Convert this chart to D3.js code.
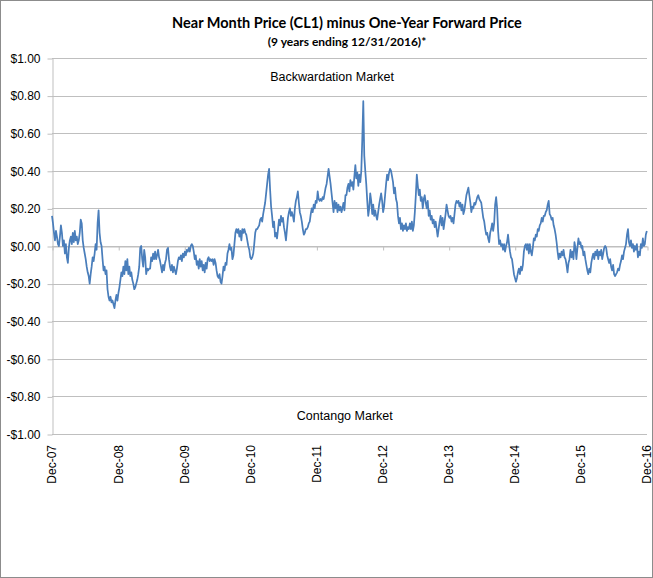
<!DOCTYPE html>
<html>
<head>
<meta charset="utf-8">
<script src="https://cdn.jsdelivr.net/npm/d3@7"></script>
<style>
  body { margin: 0; background: #fff; }
</style>
</head>
<body>
<script>
// CL1 near month minus one-year forward
// (one reading roughly every 5-6 days, Dec 2007 to Dec 2016)
const dec07ToJun09 = [
  0.16, 0.12, 0.07, 0.03, 0.08, 0.05, 0.01, 0.00, 0.05, 0.11,
  0.07, 0.00, 0.03, -0.04, 0.01, -0.06, -0.09, -0.01, 0.03, 0.05,
  0.01, 0.07, 0.02, 0.08, 0.03, 0.05, 0.01, 0.03, 0.07, 0.14,
  0.12, 0.03, -0.01, -0.04, -0.07, -0.11, -0.14, -0.16, -0.20, -0.15,
  -0.11, -0.06, -0.08, -0.04, 0.01, -0.02, 0.12, 0.19, 0.07, 0.02,
  0.00, -0.07, -0.13, -0.11, -0.15, -0.13, -0.23, -0.27, -0.29, -0.27,
  -0.30, -0.29, -0.31, -0.33, -0.29, -0.26, -0.29, -0.25, -0.22, -0.18,
  -0.14, -0.16, -0.11, -0.15, -0.08, -0.13, -0.07, -0.15, -0.11, -0.16,
  -0.14, -0.18, -0.20, -0.23, -0.22, -0.20, -0.18, -0.15, -0.11, -0.01,
  0.00, -0.07, -0.11, -0.02, -0.06, -0.15, -0.12, -0.13, -0.12
];
const jun09ToDec10 = [
  -0.12, -0.06, -0.08, -0.04, -0.07, -0.03, -0.07, -0.05, -0.02, -0.06,
  -0.08, -0.11, -0.14, -0.10, -0.13, -0.09, -0.07, -0.02, -0.01, -0.07,
  -0.11, -0.13, -0.10, -0.14, -0.11, -0.13, -0.15, -0.12, -0.08, -0.06,
  -0.07, -0.05, -0.08, -0.04, -0.06, -0.03, -0.05, -0.02, -0.03, -0.01,
  -0.03, 0.00, 0.01, 0.00, -0.03, -0.07, -0.05, -0.10, -0.08, -0.12,
  -0.07, -0.11, -0.08, -0.13, -0.10, -0.14, -0.09, -0.12, -0.07, -0.06,
  -0.08, -0.07, -0.08, -0.07, -0.10, -0.07, -0.09, -0.13, -0.16, -0.17,
  -0.15, -0.19, -0.20, -0.16, -0.11, -0.13, -0.09, -0.10, -0.04, -0.02,
  0.01, -0.02, -0.01, -0.07, -0.05, 0.01, 0.07, 0.09, 0.07, 0.09,
  0.05, 0.08, 0.03, 0.09, 0.07
];
const dec10ToJun12 = [
  0.09, 0.07, 0.06, 0.03, 0.00, -0.02, -0.06, -0.07, -0.06, -0.04,
  0.01, 0.07, 0.09, 0.09, 0.10, 0.11, 0.14, 0.15, 0.13, 0.17,
  0.20, 0.23, 0.28, 0.33, 0.38, 0.41, 0.30, 0.21, 0.16, 0.10,
  0.13, 0.05, 0.07, 0.04, 0.09, 0.14, 0.11, 0.16, 0.13, 0.15,
  0.10, 0.07, 0.03, 0.09, 0.15, 0.18, 0.20, 0.16, 0.18, 0.16,
  0.13, 0.20, 0.24, 0.26, 0.29, 0.23, 0.18, 0.16, 0.13, 0.09,
  0.06, 0.07, 0.09, 0.09, 0.10, 0.12, 0.13, 0.17, 0.20, 0.18,
  0.22, 0.20, 0.24, 0.23, 0.29, 0.25, 0.24, 0.25, 0.24, 0.26,
  0.25, 0.28, 0.31, 0.33, 0.37, 0.41, 0.37, 0.33, 0.28, 0.23,
  0.18, 0.24, 0.20, 0.23, 0.18, 0.22, 0.19, 0.21, 0.18, 0.20,
  0.23, 0.19, 0.27
];
const jun12ToDec13 = [
  0.27, 0.31, 0.33, 0.29, 0.35, 0.32, 0.34, 0.30, 0.37, 0.43,
  0.36, 0.39, 0.32, 0.38, 0.34, 0.40, 0.57, 0.77, 0.48, 0.40,
  0.33, 0.24, 0.16, 0.20, 0.28, 0.24, 0.17, 0.22, 0.16, 0.19,
  0.16, 0.14, 0.18, 0.22, 0.25, 0.28, 0.24, 0.18, 0.21, 0.27,
  0.33, 0.38, 0.35, 0.39, 0.41, 0.40, 0.37, 0.34, 0.28, 0.31,
  0.25, 0.23, 0.16, 0.12, 0.15, 0.09, 0.12, 0.08, 0.11, 0.09,
  0.12, 0.08, 0.10, 0.09, 0.12, 0.09, 0.13, 0.08, 0.11, 0.18,
  0.27, 0.38, 0.32, 0.27, 0.30, 0.24, 0.26, 0.20, 0.25, 0.27,
  0.23, 0.20, 0.24, 0.16, 0.19, 0.14, 0.16, 0.12, 0.14, 0.10,
  0.13, 0.09, 0.05, 0.09, 0.13, 0.16, 0.11, 0.15, 0.09, 0.13,
  0.17, 0.22, 0.19, 0.16
];
const dec13ToJun15 = [
  0.15, 0.16, 0.13, 0.15, 0.12, 0.17, 0.22, 0.24, 0.23, 0.24,
  0.21, 0.23, 0.19, 0.22, 0.17, 0.19, 0.23, 0.27, 0.29, 0.31,
  0.27, 0.23, 0.18, 0.21, 0.20, 0.23, 0.22, 0.24, 0.26, 0.27,
  0.25, 0.24, 0.23, 0.19, 0.15, 0.13, 0.09, 0.06, 0.07, 0.04,
  0.02, 0.07, 0.09, 0.12, 0.08, 0.12, 0.22, 0.26, 0.20, 0.08,
  0.01, 0.03, 0.00, 0.01, -0.02, 0.01, -0.03, 0.00, 0.02, 0.06,
  0.01, -0.03, -0.06, -0.07, -0.11, -0.15, -0.17, -0.19, -0.17, -0.14,
  -0.12, -0.15, -0.11, -0.13, -0.10, -0.03, 0.00, 0.01, -0.02, 0.01,
  -0.04, 0.01, -0.03, -0.05, -0.01, 0.04, 0.03, 0.06, 0.05, 0.09,
  0.08, 0.11, 0.12, 0.15, 0.13, 0.16, 0.16, 0.18, 0.19, 0.22,
  0.24, 0.17
];
const jun15ToDec16 = [
  0.16, 0.14, 0.15, 0.11, 0.09, 0.06, 0.02, -0.03, -0.07, -0.04,
  -0.06, -0.03, -0.05, -0.02, -0.06, -0.07, -0.10, -0.14, -0.09, -0.07,
  -0.02, -0.06, -0.03, -0.07, 0.02, -0.01, -0.07, -0.01, 0.04, 0.01,
  0.02, -0.01, 0.00, -0.05, -0.03, -0.07, -0.10, -0.13, -0.15, -0.12,
  -0.14, -0.09, -0.06, -0.04, -0.07, -0.03, -0.05, -0.02, -0.07, -0.03,
  -0.05, -0.02, -0.07, -0.04, -0.01, 0.00, -0.01, -0.05, -0.07, -0.09,
  -0.07, -0.11, -0.13, -0.10, -0.15, -0.16, -0.15, -0.14, -0.12, -0.13,
  -0.10, -0.08, -0.05, -0.07, -0.03, -0.01, 0.01, 0.06, 0.09, 0.02,
  0.00, 0.03, -0.01, 0.01, -0.03, 0.00, -0.02, 0.01, -0.06, -0.03,
  -0.05, 0.01, -0.01, 0.04, 0.00, 0.01, 0.06, 0.08
];

const firstDay = '2007-12-31';
const lastDay = '2016-12-30';

const yTicks = [-1, -0.8, -0.6, -0.4, -0.2, 0, 0.2, 0.4, 0.6, 0.8, 1];
const yTickLabels = ['-$1.00', '-$0.80', '-$0.60', '-$0.40', '-$0.20', '$0.00',
  '$0.20', '$0.40', '$0.60', '$0.80', '$1.00'];
const xTickDays = ['2007-12-31', '2008-12-31', '2009-12-31', '2010-12-31', '2011-12-31',
  '2012-12-31', '2013-12-31', '2014-12-31', '2015-12-31', '2016-12-31'];
const xTickLabels = ['Dec-07', 'Dec-08', 'Dec-09', 'Dec-10', 'Dec-11',
  'Dec-12', 'Dec-13', 'Dec-14', 'Dec-15', 'Dec-16'];

const width = 653;
const height = 578;
const margin = { top: 58, right: 6, bottom: 144, left: 52 };

const gridColor = '#bfbfbf';
const lineColor = '#4a7ebb';
const labelFont = '"Liberation Sans", Arial, sans-serif';
const titleFont = 'Lato, "Open Sans", sans-serif';

const parseDay = d3.timeParse('%Y-%m-%d');

const values = [].concat(dec07ToJun09, jun09ToDec10, dec10ToJun12,
  jun12ToDec13, dec13ToJun15, jun15ToDec16);
const t0 = parseDay(firstDay);
const t1 = parseDay(lastDay);
const step = (t1 - t0) / (values.length - 1);
const data = values.map((v, i) => ({ date: new Date(+t0 + i * step), value: v }));

const xTickDates = xTickDays.map(parseDay);

const x = d3.scaleTime()
    .domain([xTickDates[0], xTickDates[xTickDates.length - 1]])
    .range([margin.left, width - margin.right]);

const y = d3.scaleLinear()
    .domain([-1, 1])
    .range([height - margin.bottom, margin.top]);

const svg = d3.select('body').append('svg')
    .attr('width', width)
    .attr('height', height);

// outer frame
svg.append('rect')
    .attr('x', 0.5)
    .attr('y', 0.5)
    .attr('width', width - 1)
    .attr('height', height - 1)
    .attr('fill', '#fff')
    .attr('stroke', '#8c8c8c');

// horizontal gridlines
svg.append('g')
    .selectAll('line')
    .data(yTicks)
    .join('line')
    .attr('x1', margin.left)
    .attr('x2', width - margin.right)
    .attr('y1', d => Math.round(y(d)) + 0.5)
    .attr('y2', d => Math.round(y(d)) + 0.5)
    .attr('stroke', gridColor);

// y axis
const yAxis = svg.append('g')
    .attr('transform', `translate(${margin.left + 0.5},0.5)`)
    .call(d3.axisLeft(y)
        .tickValues(yTicks)
        .tickSize(5)
        .tickSizeOuter(0)
        .tickPadding(7)
        .tickFormat((d, i) => yTickLabels[i]));
yAxis.selectAll('path, line').attr('stroke', gridColor);
yAxis.selectAll('text')
    .attr('font-family', labelFont)
    .attr('font-size', 12)
    .attr('fill', '#000');

// horizontal axis crosses at zero, with small ticks below
const xAxis = svg.append('g')
    .attr('transform', `translate(0.5,${Math.round(y(0)) + 0.5})`)
    .call(d3.axisBottom(x)
        .tickValues(xTickDates)
        .tickSize(4)
        .tickSizeOuter(0)
        .tickFormat(''));
xAxis.selectAll('path, line').attr('stroke', gridColor);

// date labels sit at the bottom of the plot, turned upright
const xLabels = svg.append('g')
    .attr('transform', `translate(0,${y(-1)})`)
    .call(d3.axisBottom(x)
        .tickValues(xTickDates)
        .tickSize(0)
        .tickFormat((d, i) => xTickLabels[i]));
xLabels.select('.domain').remove();
xLabels.selectAll('text')
    .attr('transform', 'rotate(-90)')
    .attr('text-anchor', 'end')
    .attr('x', -11)
    .attr('y', 0)
    .attr('dy', '0.32em')
    .attr('font-family', labelFont)
    .attr('font-size', 12)
    .attr('fill', '#000');

// the spread
const line = d3.line()
    .x(d => x(d.date))
    .y(d => y(d.value));

svg.append('path')
    .datum(data)
    .attr('fill', 'none')
    .attr('stroke', lineColor)
    .attr('stroke-width', 1.75)
    .attr('stroke-linejoin', 'round')
    .attr('d', line);

// market labels
svg.append('text')
    .attr('x', x(parseDay('2012-03-27')))
    .attr('y', y(0.9))
    .attr('dy', '0.35em')
    .attr('text-anchor', 'middle')
    .attr('font-family', labelFont)
    .attr('font-size', 12.5)
    .text('Backwardation Market');

svg.append('text')
    .attr('x', x(parseDay('2012-06-05')))
    .attr('y', y(-0.9))
    .attr('dy', '0.35em')
    .attr('text-anchor', 'middle')
    .attr('font-family', labelFont)
    .attr('font-size', 12.5)
    .text('Contango Market');

// titles
svg.append('text')
    .attr('x', 347)
    .attr('y', 28)
    .attr('text-anchor', 'middle')
    .attr('font-family', titleFont)
    .attr('font-weight', 'bold')
    .attr('font-size', 14.5)
    .text('Near Month Price (CL1) minus One-Year Forward Price');

svg.append('text')
    .attr('x', 347)
    .attr('y', 45.5)
    .attr('text-anchor', 'middle')
    .attr('font-family', titleFont)
    .attr('font-weight', 'bold')
    .attr('font-size', 12)
    .text('(9 years ending 12/31/2016)*');
</script>
</body>
</html>
